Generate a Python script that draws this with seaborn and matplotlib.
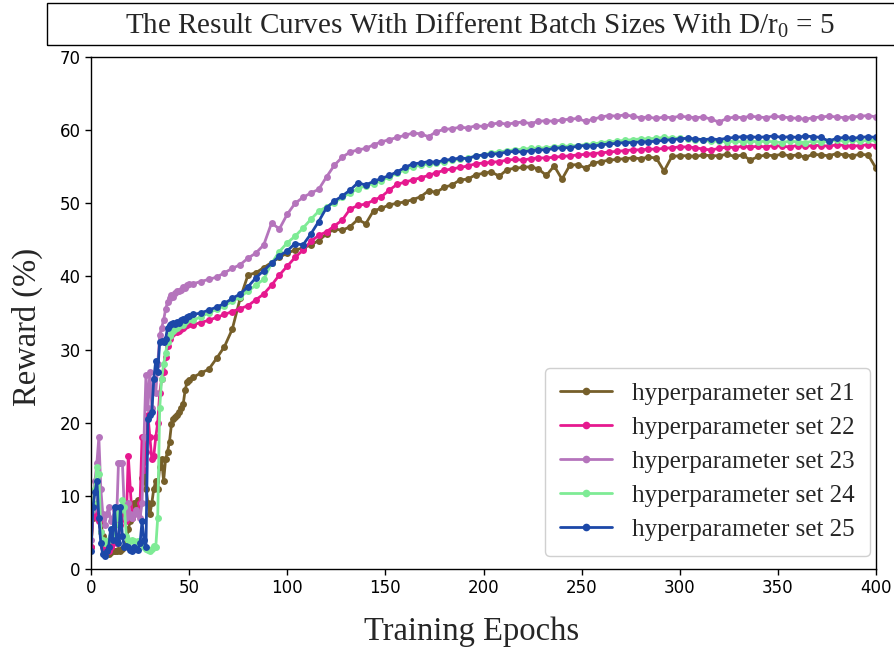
import matplotlib
matplotlib.use("Agg")
import matplotlib.pyplot as plt
import seaborn as sns
import pandas as pd
from matplotlib.patches import Rectangle

# ---------------- data ----------------
epochs = list(range(0, 51)) + list(range(52, 401, 4))

set21 = [3, 7, 7.5, 8, 11, 6, 4.5, 3, 2.2, 2, 2.3, 2.5, 2.5, 2.4, 2.6, 2.5, 2.8, 3, 3.5, 5.5,
         6.5, 7, 9, 8, 9.5, 9, 12.5, 13, 11, 9, 7.5, 9, 11, 12, 11, 14, 15, 12, 15, 16,
         17.4, 19.8, 20.5, 20.8, 21, 21.5, 22, 22.6, 24.5, 25.6, 25.8,
         26.2, 26.8, 27.3, 28.8, 30.4, 32.8, 37.0, 40.2,
         40.5, 41.2, 41.9, 42.6, 43.2, 43.6, 43.9, 44.3,
         44.9, 45.8, 46.5, 46.3, 46.8, 47.8, 47.2, 49.0,
         49.3, 49.8, 50.0, 50.2, 50.5, 50.9, 51.7, 51.5,
         52.2, 52.5, 53.2, 53.3, 53.9, 54.1, 54.3, 53.7,
         54.6, 54.8, 54.9, 55.0, 54.7, 53.8, 55.1, 53.3,
         55.2, 55.3, 54.8, 55.5, 55.7, 55.9, 56.0, 56.1,
         56.2, 56.1, 56.3, 56.2, 54.4, 56.4, 56.5, 56.5,
         56.4, 56.6, 56.5, 56.5, 56.7, 56.4, 56.6, 55.9,
         56.4, 56.6, 56.5, 56.7, 56.5, 56.6, 56.3, 56.7,
         56.6, 56.5, 56.8, 56.6, 56.5, 56.7, 56.6, 54.8]

set22 = [3, 7.5, 8, 7, 6.5, 5, 3, 2.5, 3, 2.5, 3, 3.5, 4, 3.5, 4.5, 6, 7, 7.5, 6.5, 15.5,
         11, 7, 7.5, 8, 8, 9, 18, 13.5, 16, 21, 18, 15, 15.5, 18, 20, 24, 26, 27, 29, 30.5,
         31.5, 32, 32.3, 32.5, 32.4, 32.6, 32.8, 33, 33.2, 33.3, 33.5,
         33.4, 33.7, 34.0, 34.4, 34.8, 35.2, 35.6, 36.0,
         36.8, 37.6, 38.8, 40.2, 41.4, 42.6, 43.6, 44.8,
         45.6, 46.1, 46.9, 47.7, 49.2, 49.7, 49.9, 50.4,
         50.9, 51.8, 52.6, 52.9, 53.2, 53.5, 53.8, 54.2,
         54.5, 54.7, 54.9, 55.1, 55.4, 55.5, 55.6, 55.7,
         55.9, 56.0, 55.9, 56.1, 56.2, 56.2, 56.3, 56.4,
         56.5, 56.6, 56.7, 56.8, 56.9, 57.0, 57.1, 57.2,
         57.3, 57.3, 57.4, 57.4, 57.5, 57.6, 57.7, 57.7,
         57.6, 57.4, 57.3, 57.5, 57.7, 57.6, 57.8, 57.7,
         57.8, 57.7, 57.9, 57.8, 57.7, 57.9, 57.8, 57.9,
         57.9, 57.8, 58.0, 57.9, 57.8, 57.9, 58.0, 57.9]

set23 = [4, 8, 12, 14.5, 18, 11, 7.5, 6, 7.5, 8.5, 6.5, 7, 8, 6.5, 14.5, 14.5, 14.5, 8, 7, 9,
         7.5, 7, 7.5, 8, 7.5, 7, 9, 18, 26.5, 22, 27, 22, 26, 24, 28, 32, 33, 34, 35.5, 36.5,
         37, 37.5, 37.2, 37.8, 38, 38, 38.2, 38.5, 38.4, 38.8, 38.9,
         39.0, 39.3, 39.6, 39.9, 40.5, 41.1, 41.6, 42.5,
         43.2, 44.3, 47.3, 46.5, 48.5, 50.0, 50.8, 51.4,
         51.9, 53.6, 55.2, 56.3, 57.0, 57.3, 57.5, 58.0,
         58.4, 58.7, 59.0, 59.3, 59.6, 59.5, 59.1, 59.8,
         60.1, 60.2, 60.4, 60.3, 60.6, 60.5, 60.8, 61.0,
         60.8, 61.0, 61.1, 60.9, 61.2, 61.3, 61.2, 61.4,
         61.5, 61.6, 61.2, 61.5, 61.8, 62.0, 61.9, 62.1,
         61.9, 61.7, 61.8, 61.6, 61.8, 61.7, 61.9, 61.8,
         61.7, 61.8, 61.5, 61.1, 61.6, 61.8, 61.7, 61.9,
         61.8, 61.7, 61.9, 61.8, 61.7, 61.6, 61.5, 61.7,
         61.8, 61.9, 61.8, 61.7, 61.8, 61.9, 62.0, 61.8]

set24 = [8, 9, 11, 14, 13, 5, 4, 3.5, 3.8, 4, 4.5, 5, 6, 7, 7.5, 8, 9.4, 8.5, 4.5, 4,
         3.8, 4, 3.8, 3.6, 3.8, 3.6, 3.5, 3, 2.8, 2.6, 2.5, 2.8, 3.2, 3, 7, 22, 26, 28, 29.5, 31,
         31.8, 32.2, 32.6, 32.8, 33, 33.2, 33.5, 33.4, 33.8, 34, 34.2,
         34.0, 34.5, 35.0, 35.5, 36.0, 36.6, 37.2, 38.0,
         38.8, 39.6, 41.8, 43.4, 44.6, 45.5, 46.6, 47.8,
         48.9, 49.5, 50.1, 50.8, 51.4, 52.0, 52.4, 52.7,
         53.1, 53.6, 54.1, 54.6, 55.0, 55.2, 55.4, 55.5,
         55.7, 55.9, 56.0, 56.2, 56.4, 56.6, 56.9, 57.0,
         57.2, 57.3, 57.4, 57.5, 57.5, 57.6, 57.7, 57.8,
         57.8, 57.9, 58.0, 58.1, 58.3, 58.4, 58.5, 58.6,
         58.7, 58.8, 58.8, 58.9, 59.0, 58.9, 58.9, 58.8,
         58.7, 58.6, 58.5, 58.5, 58.4, 58.5, 58.4, 58.5,
         58.4, 58.5, 58.4, 58.3, 58.5, 58.4, 58.3, 58.5,
         58.4, 58.5, 58.6, 58.5, 58.6, 58.5, 58.6, 58.6]

set25 = [2.5, 8.5, 10.5, 12, 7, 3.5, 2, 1.8, 2.5, 3, 5.5, 4, 8.5, 4, 3.5, 8.5, 4.5, 3, 3.2, 3,
         2.6, 2.5, 3, 2.7, 2.6, 3.5, 6.5, 4, 3, 20.5, 21, 21.5, 26, 28.5, 27, 31, 31.2, 31, 31.4, 33,
         33.4, 33.5, 33.6, 33.5, 33.8, 33.6, 34, 34.2, 34, 34.5, 34.6,
         34.8, 35.0, 35.4, 35.8, 36.3, 37.0, 37.6, 38.6,
         39.8, 40.8, 41.8, 42.8, 43.5, 44.5, 44.3, 45.8,
         47.5, 49.4, 50.3, 51.0, 51.8, 52.8, 52.5, 53.0,
         53.4, 53.8, 54.3, 54.9, 55.4, 55.5, 55.7, 55.6,
         55.9, 56.0, 56.2, 56.1, 56.5, 56.6, 56.7, 56.8,
         57.0, 57.1, 57.0, 57.2, 57.3, 57.3, 57.5, 57.6,
         57.6, 57.8, 57.9, 57.8, 58.0, 58.1, 58.2, 58.3,
         58.3, 58.4, 58.4, 58.5, 58.6, 58.7, 58.8, 58.9,
         58.8, 58.7, 58.8, 58.7, 58.9, 59.0, 59.1, 59.1,
         59.0, 59.1, 59.2, 59.0, 59.1, 59.0, 59.2, 59.1,
         59.0, 58.5, 58.9, 59.0, 58.9, 59.0, 59.1, 59.0]

labels = ["hyperparameter set 21", "hyperparameter set 22", "hyperparameter set 23",
          "hyperparameter set 24", "hyperparameter set 25"]
colors = ["#765F2A", "#E6198F", "#B574BC", "#7EEB95", "#1C48A8"]
series = [set21, set22, set23, set24, set25]

x_ticks = [0, 50, 100, 150, 200, 250, 300, 350, 400]
y_ticks = [0, 10, 20, 30, 40, 50, 60, 70]

# ---------------- plot ----------------
sns.set_style("ticks")
plt.rcParams["font.family"] = ["DejaVu Sans"]
plt.rcParams["mathtext.fontset"] = "custom"
plt.rcParams["mathtext.rm"] = "Liberation Serif"
plt.rcParams["mathtext.it"] = "Liberation Serif:italic"

fig = plt.figure(figsize=(8.95, 6.55), dpi=100)
ax = fig.add_axes([91 / 895, 1 - 569 / 655, (876 - 91) / 895, (569 - 57) / 655])

frames = []
for lab, vals in zip(labels, series):
    frames.append(pd.DataFrame({"epoch": epochs, "reward": vals, "set": lab}))
df = pd.concat(frames, ignore_index=True)

for lab, col in zip(labels, colors):
    sub = df[df["set"] == lab]
    sns.lineplot(data=sub, x="epoch", y="reward", ax=ax, color=col, label=lab,
                 marker="o", markersize=5, markeredgewidth=0, linewidth=2.0,
                 estimator=None, sort=False)

ax.set_xlim(0, 400)
ax.set_ylim(0, 70)
ax.set_xticks(x_ticks)
ax.set_yticks(y_ticks)
ax.tick_params(labelsize=12, length=4, width=1, colors="black")
for s in ax.spines.values():
    s.set_linewidth(1.0)
    s.set_color("black")

ax.set_xlabel("Training Epochs", fontfamily="Liberation Serif", fontsize=23.5)
ax.set_ylabel("Reward (%)", fontfamily="Liberation Serif", fontsize=23.5)
ax.xaxis.set_label_coords((472 - 91) / 785, -0.092)
ax.yaxis.set_label_coords(-0.061, (569 - 327) / 512)

leg = ax.legend(loc="lower right", bbox_to_anchor=((870 - 91) / 785, (569 - 556) / 512),
                prop={"family": "Liberation Serif", "size": 18},
                frameon=True, fancybox=True, framealpha=1, edgecolor="#d0d0d0",
                handlelength=2.1, borderpad=0.6, labelspacing=0.46, handletextpad=0.8,
                borderaxespad=0.0)
for h in leg.get_lines():
    h.set_linewidth(2.0)
    h.set_markersize(5.5)

# title box
fig.patches.append(Rectangle((47 / 895, 1 - 45 / 655), 0.97, 42 / 655,
                             transform=fig.transFigure, fill=False,
                             edgecolor="black", linewidth=1.0))
fig.text(480 / 895, 1 - 25 / 655, r"The Result Curves With Different Batch Sizes With D/r$_0$ = 5",
         ha="center", va="center", fontfamily="Liberation Serif", fontsize=21)

fig.savefig("out.png", dpi=100)
